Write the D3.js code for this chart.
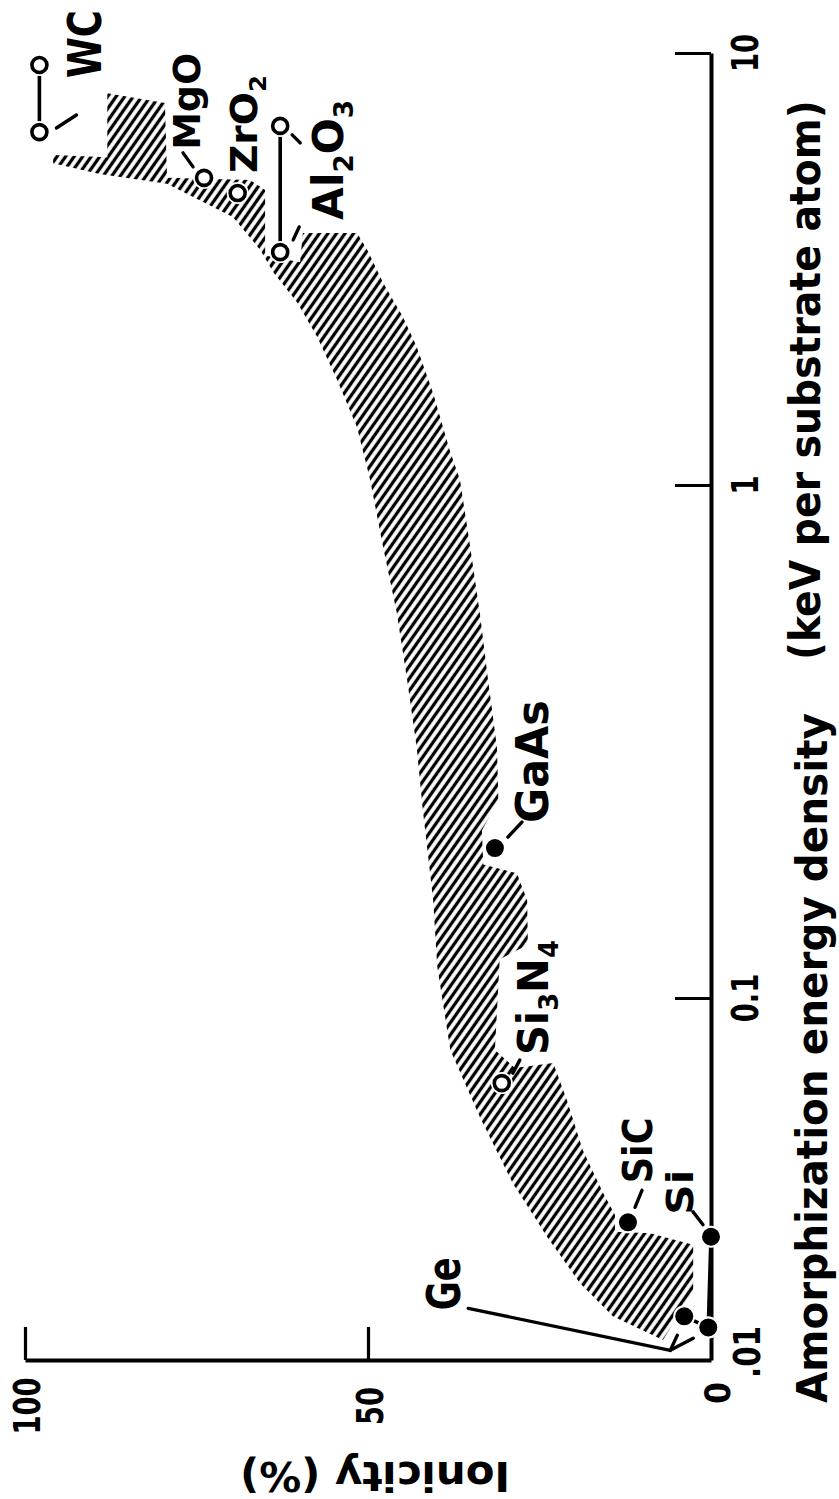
<!DOCTYPE html>
<html lang="en">
<head>
<meta charset="UTF-8" />
<title>Ionicity vs amorphization energy density</title>
<script src="https://d3js.org/d3.v7.min.js"></script>
<style>
  body { margin: 0; background: #fff; }
  svg { display: block; }
  text { font-family: "DejaVu Sans", sans-serif; font-weight: bold; fill: #000; }
</style>
</head>
<body>
<div id="chart"></div>
<script>
// page size (the figure is drawn turned a quarter turn, energy runs upward)
const width = 839, height = 1499;

// axis ticks
const energyTicks = [10, 1, 0.1];      // keV per substrate atom
const ionicityTicks = [100, 50];       // %

// shaded band, [energy, ionicity] — high-ionicity edge, top to bottom
const bandHighEdge = [
  [8.07, 88.0], [5.74, 88.0], [5.81, 95.9], [5.56, 95.9], [5.25, 89.1],
  [4.98, 79.3], [4.17, 69.7], [3.50, 65.7], [3.11, 63.8], [2.64, 60.3],
  [2.20, 57.4], [1.75, 54.5], [1.36, 51.6], [1.03, 49.7], [0.757, 47.8],
  [0.563, 45.8], [0.417, 44.3], [0.308, 42.9], [0.232, 42.0], [0.155, 40.5],
  [0.115, 39.9], [0.0718, 38.0], [0.0469, 33.7], [0.0308, 28.9], [0.0219, 23.9],
  [0.0163, 19.1], [0.0132, 14.3], [0.01135, 7.0]
];
// low-ionicity edge, top to bottom
const bandLowEdge = [
  [7.66, 79.6], [5.14, 79.3], [5.08, 67.2], [4.82, 65.0], [3.40, 65.0],
  [3.28, 59.9], [3.83, 59.5], [3.83, 51.6], [3.50, 50.1], [2.94, 47.8],
  [2.45, 44.9], [2.09, 42.9], [1.63, 40.5], [1.19, 38.0], [1.03, 36.6],
  [0.757, 35.1], [0.563, 33.7], [0.417, 32.5], [0.308, 31.2], [0.243, 31.0],
  [0.212, 33.4], [0.182, 33.2], [0.175, 28.3], [0.155, 26.8], [0.127, 26.7],
  [0.119, 30.8], [0.0718, 31.5], [0.0641, 28.6], [0.0661, 23.0], [0.0522, 21.0],
  [0.0380, 18.7], [0.0289, 15.7], [0.0252, 14.0], [0.0226, 14.0], [0.0224, 8.9],
  [0.0208, 2.6], [0.0156, 2.6]
];

// materials (one or two measured points each)
const materialNames    = ["WC", "Al2O3", "MgO", "ZrO2", "Si3N4", "GaAs", "SiC", "Si", "Ge"];
const materialEnergy   = [[9.38, 6.56], [6.78, 3.46], [5.14], [4.74], [0.0582], [0.196], [0.024], [0.0219, 0.0123], [0.0132, 0.0123]];
const materialIonicity = [[97.9, 97.9], [62.8, 62.8], [73.9], [69.0], [30.5], [31.5], [12.1], [0, 0.4], [3.9, 0.4]];
const materialOpen     = [true, true, true, true, true, false, false, false, false];

// label placement relative to each material's first point (page px)
const labelLayout = {
  WC:    { dx: 62, dy: 13, size: 46, len: 68, leaders: [[[17, 63], [37, 50]]] },
  Al2O3: { dx: 63, dy: 94, size: 42, len: 120, leaders: [[[12, 9], [20, 17]], [[13, 114], [19, 101]]] },
  MgO:   { dx: -4, dy: -28, size: 38, len: 97, leaders: [[[-21, -25], [-11, -11]]] },
  ZrO2:  { dx: 19, dy: -20, size: 38, len: 98, leaders: [] },
  Si3N4: { dx: 46, dy: -28, size: 42, len: 115, leaders: [[[11, -10], [18, -23]]] },
  GaAs:  { dx: 53, dy: -25, size: 44, len: 123, leaders: [[[13, -11], [27, -26]]] },
  SiC:   { dx: 24, dy: -39, size: 40, len: 66, leaders: [[[7, -15], [14, -32]]] },
  Si:    { dx: -18, dy: -22, size: 38, len: 45, leaders: [[[-18, -25], [-8, -12]]] },
  Ge:    { dx: -224, dy: -6, size: 46, len: 53, leaders: [[[-216, -8], [-14, 34], [-7, 19]], [[-14, 34], [9, 22]]] }
};

const svg = d3.select("#chart").append("svg")
  .attr("width", width).attr("height", height);

// ionicity runs right-to-left, energy bottom-to-top (hand-drawn decades are uneven)
const x = d3.scaleLinear().domain([0, 100]).range([711, 25]);
const y = d3.scaleLog().domain([0.01, 0.1, 1, 10]).range([1360, 998, 485, 53]);

// hatch pattern for the band
const defs = svg.append("defs");
defs.append("pattern")
  .attr("id", "hatch")
  .attr("patternUnits", "userSpaceOnUse")
  .attr("width", 7).attr("height", 7)
  .attr("patternTransform", "rotate(35)")
  .append("line")
  .attr("x1", 3.5).attr("y1", -1).attr("x2", 3.5).attr("y2", 8)
  .attr("stroke", "#000").attr("stroke-width", 3.3);

const bandLine = d3.line().x(d => x(d[1])).y(d => y(d[0]));
svg.append("path")
  .attr("d", bandLine(bandHighEdge.concat(bandLowEdge.slice().reverse())) + "Z")
  .attr("fill", "url(#hatch)");

// axes
const ionAxis = svg.append("g")
  .attr("transform", "translate(0,1360)")
  .call(d3.axisBottom(x).tickValues(ionicityTicks).tickSizeInner(-33).tickSizeOuter(0).tickFormat(""));
const enAxis = svg.append("g")
  .attr("transform", "translate(711,0)")
  .call(d3.axisRight(y).tickValues(energyTicks).tickSizeInner(-36).tickSizeOuter(0).tickFormat(""));
[ionAxis, enAxis].forEach(a => {
  a.selectAll("text").remove();
  a.select(".domain").attr("stroke", "#000").attr("stroke-width", 4);
  a.selectAll(".tick line").attr("stroke", "#000").attr("stroke-width", 3.2);
});

// rotate + squeeze a text element to a target run length
function fit(t, px, py, angle, len) {
  const natural = t.node().getComputedTextLength();
  const s = len ? len / natural : 0.72;
  t.attr("transform", `translate(${px},${py}) rotate(${angle}) scale(${s},1)`);
}

// tick labels
ionicityTicks.forEach(v => {
  const t = svg.append("text").attr("font-size", 38).attr("text-anchor", "middle").text(v);
  fit(t, x(v) + 15, 1406, -90, null);
});
energyTicks.forEach(v => {
  const t = svg.append("text").attr("font-size", 38).attr("text-anchor", "middle").text(v);
  fit(t, 758, y(v), -90, null);
});
// hand-lettered "0.01": leading zero sits a little above the rest
fit(svg.append("text").attr("font-size", 36).text("0"), 730, 1404, -90, 22);
fit(svg.append("text").attr("font-size", 38).text(".01"), 760, y(0.01) + 18, -90, 52);

// axis titles
fit(svg.append("text").attr("font-size", 43).text("Amorphization energy density"), 827, 1403, -90, 690);
fit(svg.append("text").attr("font-size", 43).text("(keV per substrate atom)"), 820, 660, -90, 560);
fit(svg.append("text").attr("font-size", 40).text("Ionicity (%)"), 510, 1462, 180, 270);

// materials: connecting bars, leaders, markers and formula labels
function formula(t, label, size) {
  let shifted = false;
  label.match(/[A-Za-z]+|\d+/g).forEach(p => {
    const sub = /\d/.test(p);
    const ts = t.append("tspan").text(p);
    if (sub) ts.attr("font-size", size * 0.62).attr("dy", shifted ? 0 : size * 0.24);
    else if (shifted) ts.attr("dy", -size * 0.24);
    shifted = sub;
  });
}

materialNames.forEach((name, k) => {
  const pts = materialEnergy[k].map((e, j) => [x(materialIonicity[k][j]), y(e)]);
  const [ax, ay] = pts[0];
  const lay = labelLayout[name];
  const g = svg.append("g");

  if (pts.length > 1) {
    g.append("path").attr("d", d3.line()(pts))
      .attr("stroke", "#000").attr("stroke-width", 3.6).attr("fill", "none");
  }
  lay.leaders.forEach(seg => {
    g.append("path")
      .attr("d", d3.line()(seg.map(p => [ax + p[0], ay + p[1]])))
      .attr("stroke", "#000").attr("stroke-width", 3.4)
      .attr("stroke-linecap", "round").attr("fill", "none");
  });
  pts.forEach(p => {
    g.append("circle").attr("cx", p[0]).attr("cy", p[1]).attr("r", 11).attr("fill", "#fff");
    if (materialOpen[k]) {
      g.append("circle").attr("cx", p[0]).attr("cy", p[1]).attr("r", 7.5)
        .attr("fill", "#fff").attr("stroke", "#000").attr("stroke-width", 3.6);
    } else {
      g.append("circle").attr("cx", p[0]).attr("cy", p[1]).attr("r", 9).attr("fill", "#000");
    }
  });
  const t = g.append("text").attr("font-size", lay.size);
  formula(t, name, lay.size);
  fit(t, ax + lay.dx, ay + lay.dy, -90, lay.len);
});
</script>
</body>
</html>
